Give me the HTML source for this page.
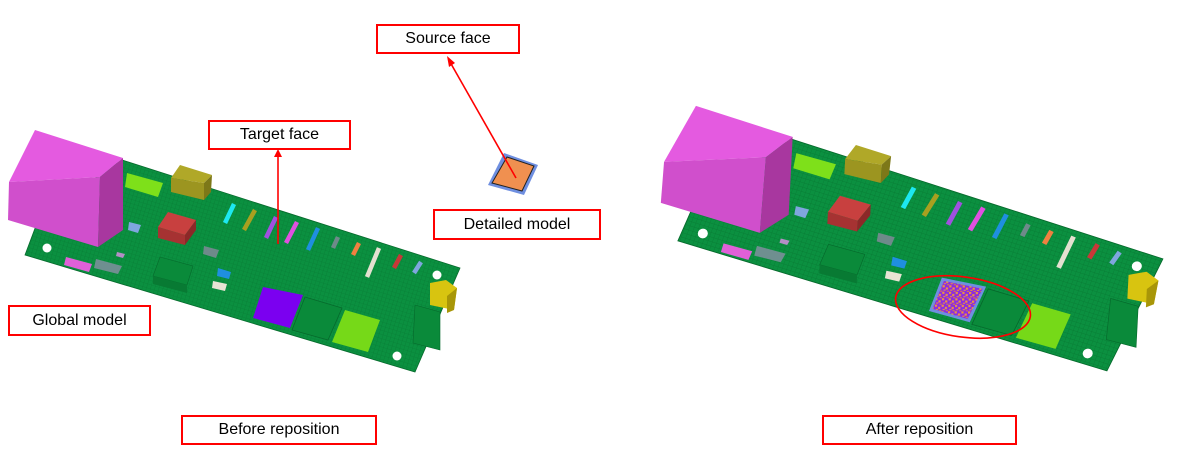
<!DOCTYPE html>
<html><head><meta charset="utf-8"><style>
html,body{margin:0;padding:0;background:#fff;}
body{width:1190px;height:466px;position:relative;overflow:hidden;font-family:"Liberation Sans",sans-serif;}
.lb{position:absolute;border:2px solid #f00;background:#fff;box-sizing:border-box;font-size:16px;color:#000;display:flex;align-items:center;justify-content:center;}
svg{position:absolute;left:0;top:0;}
</style></head><body>
<svg width="1190" height="466" viewBox="0 0 1190 466">
<defs>
<pattern id="grid" width="4" height="4" patternUnits="userSpaceOnUse" patternTransform="rotate(17)">
<rect width="4" height="4" fill="#0b9040"/>
<path d="M0 0H4M0 0V4" stroke="#077a33" stroke-width="0.6"/>
</pattern>
<pattern id="noise" width="6" height="6" patternUnits="userSpaceOnUse">
<rect width="6" height="6" fill="#8a2be2"/>
<rect x="0" y="0" width="2" height="2" fill="#f0963c"/><rect x="3" y="2" width="2" height="2" fill="#f0963c"/>
<rect x="1" y="4" width="2" height="1" fill="#f0963c"/><rect x="4" y="5" width="2" height="1" fill="#e08040"/>
</pattern>
<g id="board">
<polygon points="25,255 40,215 122,160 460,268 415,372" fill="url(#grid)" stroke="#066a2c" stroke-width="0.8"/>
<circle cx="47" cy="248" r="4.5" fill="#fff"/>
<circle cx="437" cy="275" r="4.5" fill="#fff"/>
<circle cx="397" cy="356" r="4.5" fill="#fff"/>
<polygon points="9,182 35,130 123,158 100,177" fill="#e45ae0"/>
<polygon points="9,182 100,177 98,247 8,220" fill="#d04fcc"/>
<polygon points="100,177 123,158 123,230 98,247" fill="#a8379f"/>
<polygon points="127,173 163,183 158,197 125,187" fill="#7ee01a"/>
<polygon points="171,178 180,165 212,175 204,183" fill="#b0a828"/>
<polygon points="171,178 204,183 204,200 171,192" fill="#9c9520"/>
<polygon points="204,183 212,175 211,192 204,200" fill="#7d7818"/>
<polygon points="158,227 168,212 196,220 185,235" fill="#c8403f"/>
<polygon points="158,227 185,235 185,245 158,238" fill="#a63232"/>
<polygon points="185,235 196,220 196,230 185,245" fill="#8c2828"/>
<polygon points="129,222 141,225 138,233 128,230" fill="#7fa6de"/>
<polygon points="204,246 219,250 216,258 203,254" fill="#6e8a8a"/>
<polygon points="66,257 92,264 89,272 64,265" fill="#e060d8"/>
<polygon points="96,259 122,266 118,274 94,268" fill="#6f8f90"/>
<polygon points="117,252 125,254 123,258 116,256" fill="#b58ec6"/>
<polygon points="160,257 193,266 187,285 153,276" fill="#0a8a3a" stroke="#066a2c" stroke-width="0.6"/>
<polygon points="153,276 187,285 187,293 153,284" fill="#087a33"/>
<polygon points="218,268 231,272 229,279 217,276" fill="#1f8fe0"/>
<polygon points="213,281 227,284 225,291 212,288" fill="#e8e4d4"/>
<polygon points="305,297 342,308 328,340 292,330" fill="#0a8a3a" stroke="#066a2c" stroke-width="0.8"/>
<polygon points="345,310 380,320 368,352 332,342" fill="#76d918"/>
<polygon points="430,283 446,280 457,288 454,310 430,305" fill="#d8c410"/>
<polygon points="447,296 457,288 454,310 447,313" fill="#a89608"/>
<polygon points="415,305 440,312 440,350 413,343" fill="#0a8a3a" stroke="#066a2c" stroke-width="0.6"/>
<g stroke-width="4.5" stroke-linecap="butt">
<line x1="225" y1="223" x2="234" y2="204" stroke="#1de8f0"/>
<line x1="244" y1="230" x2="255" y2="210" stroke="#a8a020"/>
<line x1="266" y1="238" x2="276" y2="217" stroke="#a050e0"/>
<line x1="286" y1="243" x2="297" y2="222" stroke="#e050e0"/>
<line x1="308" y1="250" x2="318" y2="228" stroke="#1f8fe0"/>
<line x1="333" y1="248" x2="338" y2="237" stroke="#6e8a8a"/>
<line x1="353" y1="255" x2="359" y2="243" stroke="#f08040"/>
<line x1="367" y1="277" x2="379" y2="248" stroke="#e4e0d0"/>
<line x1="394" y1="268" x2="401" y2="255" stroke="#c83838"/>
<line x1="414" y1="273" x2="421" y2="262" stroke="#7fa6de"/>
</g>
</g>
</defs>
<use href="#board"/>
<polygon points="263,287 303,295 290,328 253,318" fill="#7b00f0"/>
<g transform="matrix(1.1166,0.0091,-0.055,1.081,664,-35)">
<use href="#board"/>
<polygon points="263,287 303,295 290,328 253,318" fill="#6f8fe0"/>
<polygon points="265,290 300,297 288,325 256,316" fill="url(#noise)"/>
</g>
<ellipse cx="963" cy="307" rx="68" ry="30" transform="rotate(8 963 307)" fill="none" stroke="#f00" stroke-width="1.6"/>
<polygon points="504,153 538,165 524,195 488,185" fill="#6f8fe0"/>
<polygon points="507,157 534,166 522,191 492,183" fill="#f09050" stroke="#222" stroke-width="1"/>
<line x1="516" y1="178" x2="450" y2="62" stroke="#f00" stroke-width="1.6"/>
<polygon points="447,56 455,63 449,67" fill="#f00"/>
<line x1="278" y1="244" x2="278" y2="156" stroke="#f00" stroke-width="1.6"/>
<polygon points="278,149 274,157 282,157" fill="#f00"/>
</svg>
<div class="lb" style="left:376px;top:24px;width:144px;height:30px;">Source face</div>
<div class="lb" style="left:208px;top:120px;width:143px;height:30px;">Target face</div>
<div class="lb" style="left:433px;top:209px;width:168px;height:31px;">Detailed model</div>
<div class="lb" style="left:8px;top:305px;width:143px;height:31px;">Global model</div>
<div class="lb" style="left:181px;top:415px;width:196px;height:30px;">Before reposition</div>
<div class="lb" style="left:822px;top:415px;width:195px;height:30px;">After reposition</div>
</body></html>
